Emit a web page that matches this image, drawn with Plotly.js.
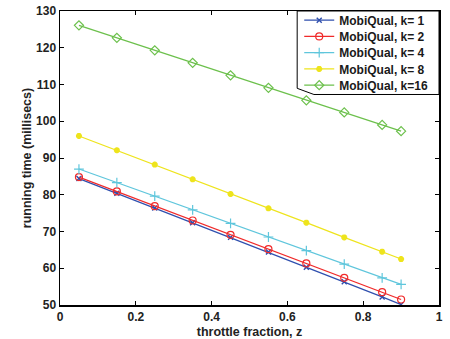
<!DOCTYPE html>
<html>
<head>
<meta charset="utf-8">
<script src="https://cdn.plot.ly/plotly-3.0.1.min.js"></script>
<style>
  html, body { margin: 0; padding: 0; background: #fff; }
  #chart { width: 450px; height: 339px; }
</style>
</head>
<body>
<div id="chart"></div>
<script>
// Throttle fraction z at which each configuration was measured
const throttle = [0.05, 0.15, 0.25, 0.35, 0.45, 0.55, 0.65, 0.75, 0.85, 0.90];

// Running time (millisecs) per k
const timeK1  = [84.4, 80.4, 76.4, 72.4, 68.4, 64.4, 60.3, 56.3, 52.2, 50.1];
const timeK2  = [84.8, 80.9, 76.9, 73.0, 69.1, 65.2, 61.3, 57.4, 53.5, 51.5];
const timeK4  = [87.0, 83.3, 79.6, 75.9, 72.2, 68.5, 64.8, 61.1, 57.4, 55.6];
const timeK8  = [96.0, 92.1, 88.2, 84.2, 80.2, 76.3, 72.4, 68.4, 64.5, 62.5];
const timeK16 = [126.1, 122.7, 119.3, 115.9, 112.5, 109.1, 105.7, 102.4, 99.0, 97.3];

const seriesNames = ['MobiQual, k= 1', 'MobiQual, k= 2', 'MobiQual, k= 4', 'MobiQual, k= 8', 'MobiQual, k=16'];
const xTicks = [0, 0.2, 0.4, 0.6, 0.8, 1];
const xTickText = ['0', '0.2', '0.4', '0.6', '0.8', '1'];
const yTicks = [50, 60, 70, 80, 90, 100, 110, 120, 130];

const FONT = 'Liberation Sans, Arial, Helvetica, sans-serif';

const styles = [
  { color: '#2f4fae', symbol: 'x-thin-open', size: 5, lw: 1.4 },
  { color: '#f02a2a', symbol: 'circle-open', size: 7, lw: 1.2 },
  { color: '#5fc6dc', symbol: 'cross-thin-open', size: 7, lw: 1.2 },
  { color: '#eee41c', symbol: 'asterisk-open', size: 5, lw: 2 },
  { color: '#6cc04c', symbol: 'diamond-open', size: 7, lw: 1.2 }
];
const values = [timeK1, timeK2, timeK4, timeK8, timeK16];

const traces = values.map((v, i) => ({
  type: 'scatter',
  mode: 'lines+markers',
  name: seriesNames[i],
  x: throttle,
  y: v,
  line: { color: styles[i].color, width: 1.2 },
  marker: {
    symbol: styles[i].symbol,
    size: styles[i].size,
    color: styles[i].color,
    line: { color: styles[i].color, width: styles[i].lw }
  }
}));

const axisCommon = {
  showgrid: false,
  zeroline: false,
  showline: true,
  linecolor: '#000',
  linewidth: 1.5,
  mirror: 'ticks',
  ticks: 'inside',
  ticklen: 4,
  tickwidth: 1,
  tickcolor: '#000',
  ticklabeloverflow: 'allow'
};

// Legend frame with the clipped lower-left corner
const legendFrame = {
  type: 'path',
  xref: 'paper', yref: 'paper',
  path: 'M 0.6258 1 L 1 1 L 1 0.716 L 0.67 0.716 L 0.6258 0.737 Z',
  line: { color: '#000', width: 1 },
  fillcolor: 'rgba(0,0,0,0)',
  layer: 'above'
};

const layout = {
  width: 450,
  height: 339,
  margin: { l: 59.5, r: 11, t: 6, b: 34, pad: 0 },
  paper_bgcolor: '#fff',
  plot_bgcolor: '#fff',
  font: { family: FONT, color: '#222' },
  showlegend: true,
  legend: {
    x: 0.6312, xanchor: 'left',
    y: 1.018, yanchor: 'top',
    bgcolor: 'rgba(0,0,0,0)',
    borderwidth: 0,
    font: { family: FONT, size: 12, color: '#1a1a1a', weight: 'bold' },
    tracegroupgap: 0
  },
  xaxis: Object.assign({}, axisCommon, {
    range: [0, 1],
    tickvals: xTicks,
    ticktext: xTickText,
    tickfont: { family: FONT, size: 12, color: '#222', weight: 'bold' },
    title: { text: 'throttle fraction, z', font: { family: FONT, size: 12.5, color: '#222', weight: 'bold' }, standoff: 4 }
  }),
  yaxis: Object.assign({}, axisCommon, {
    range: [50, 130],
    tickvals: yTicks,
    tickfont: { family: FONT, size: 12, color: '#222', weight: 'bold' },
    title: { text: 'running time (millisecs)', font: { family: FONT, size: 12.5, color: '#222', weight: 'bold' }, standoff: 1 }
  }),
  shapes: [
    // white backing behind the legend, then the frame on top
    Object.assign({}, legendFrame, { fillcolor: '#fff', line: { width: 0 } }),
    legendFrame
  ]
};

// Row pitch of the legend entries (tighter than the library default)
const LEGEND_ROW = 16.25;

Plotly.newPlot('chart', traces, layout, { staticPlot: true, displayModeBar: false }).then(gd => {
  const rows = gd.querySelectorAll('.legend .traces');
  if (!rows.length) return;
  const parse = el => {
    const m = /translate\(\s*([-\d.]+)[ ,]+([-\d.]+)\s*\)/.exec(el.getAttribute('transform') || '');
    return m ? [parseFloat(m[1]), parseFloat(m[2])] : [0, 0];
  };
  const [x0, y0] = parse(rows[0]);
  rows.forEach((el, i) => {
    el.setAttribute('transform', 'translate(' + parse(el)[0] + ',' + (y0 + i * LEGEND_ROW) + ')');
  });
});
</script>
</body>
</html>
